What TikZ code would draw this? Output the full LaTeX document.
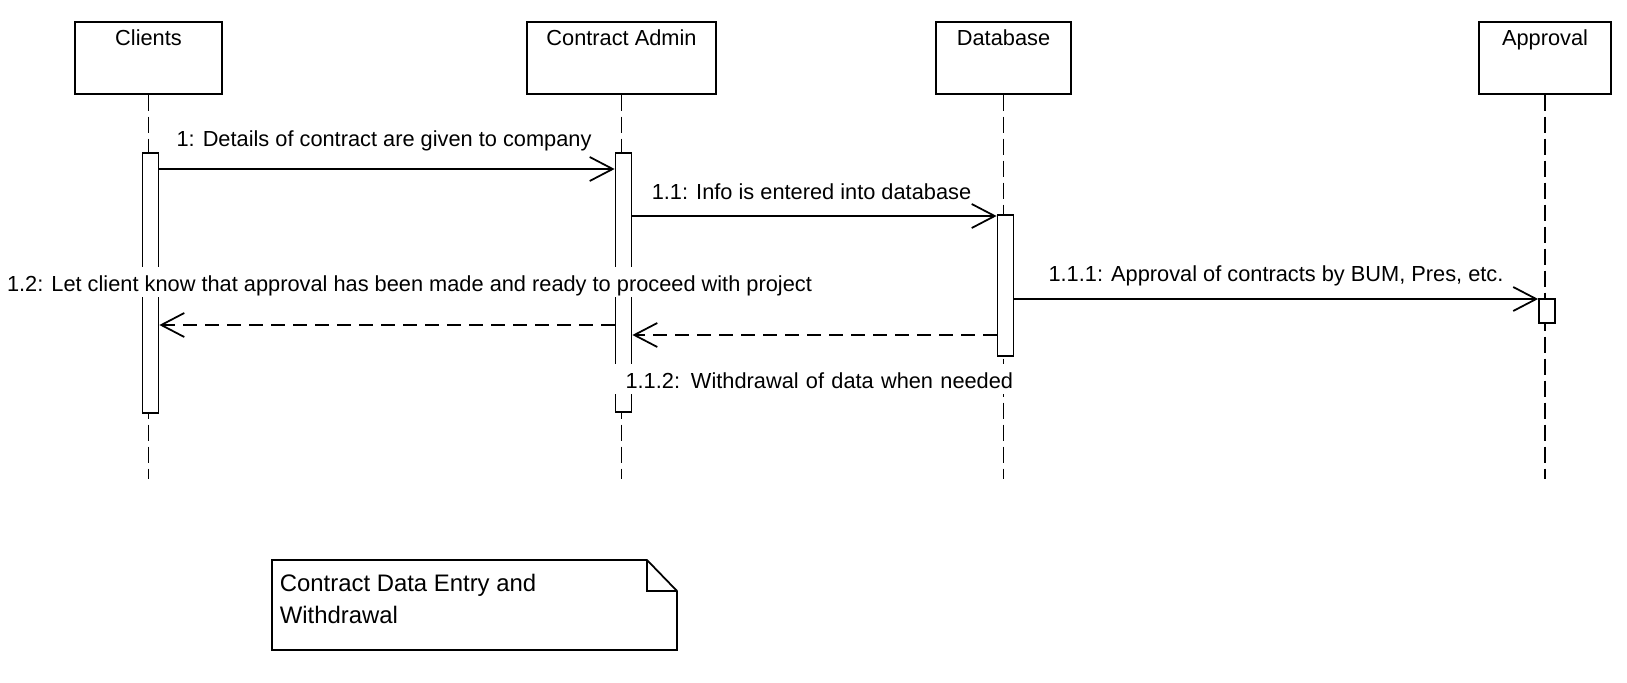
\documentclass[tikz,border=0pt]{standalone}
\usepackage{fontspec}
\setmainfont{Liberation Sans}
\usetikzlibrary{arrows.meta,fit}

\begin{document}
\begin{tikzpicture}[
  x=0.02cm, y=-0.02cm,
  font=\fontsize{12.4}{15}\selectfont,
  line width=1pt,
  actor/.style={draw, anchor=north, minimum height=1.44cm, inner sep=0pt,
                text height=0.48cm, text depth=0.96cm},
  bar/.style={draw, fill=white, inner sep=0pt},
  life/.style={dash pattern=on 0.32cm off 0.12cm},
  msg/.style={-{Straight Barb[length=0.46cm,width=0.48cm]}},
  ret/.style={msg, dash pattern=on 0.28cm off 0.16cm},
  lbl/.style={anchor=base, fill=white, inner sep=0pt,
              text height=0.48cm, text depth=0.12cm},
  notetxt/.style={anchor=north west, inner sep=0pt, align=left,
                  font=\fontsize{13.6}{18.2}\selectfont},
]

  \useasboundingbox (0,0) rectangle (1627,683);

  \def\xcl{148.5}
  \def\xca{621.5}
  \def\xdb{1003.5}
  \def\xap{1545}

  % Participants

  \node[actor, minimum width=2.94cm] (clients)  at (\xcl,21) {Clients};
  \node[actor, minimum width=3.78cm] (admin)    at (\xca,21) {Contract Admin};
  \node[actor, minimum width=2.70cm] (database) at (\xdb,21) {Database};
  \node[actor, minimum width=2.64cm] (approval) at (\xap,21) {Approval};

  % Lifelines

  \coordinate (bottom) at (0,479);
  \draw[life] (clients.south)  -- (clients.south |- bottom);
  \draw[life] (admin.south)    -- (admin.south |- bottom);
  \draw[life] (database.south) -- (database.south |- bottom);
  \draw[life] (approval.south) -- (approval.south |- bottom);

  % Activation bars

  \node[bar, fit={(\xcl-6,153) (\xcl+10,413)}] (clbar) {};
  \node[bar, fit={(\xca-6,153) (\xca+10,412)}] (cabar) {};
  \node[bar, fit={(\xdb-6,215) (\xdb+10,356)}] (dbbar) {};
  \node[bar, fit={(\xap-6,299) (\xap+10,323)}] (apbar) {};

  % Messages

  \coordinate (m1)   at (0,169);
  \coordinate (m11)  at (0,216);
  \coordinate (m111) at (0,299);
  \coordinate (m12)  at (0,325);
  \coordinate (m112) at (0,335);

  \draw[msg] (clbar.east |- m1)   -- (cabar.west |- m1);
  \draw[msg] (cabar.east |- m11)  -- (dbbar.west |- m11);
  \draw[msg] (dbbar.east |- m111) -- (apbar.west |- m111);
  \draw[ret] (cabar.west |- m12)  -- (clbar.east |- m12);
  \draw[ret] (dbbar.west |- m112) -- (cabar.east |- m112);

  % Message labels

  \node[lbl] (l1)   at (384,146)    {1: Details of contract are given to company};
  \node[lbl] (l11)  at (811.5,199)  {1.1: Info is entered into database};
  \node[lbl] (l111) at (1276,281)   {1.1.1: Approval of contracts by BUM, Pres, etc.};
  \node[lbl] (l12)  at (409.5,291)
    {1.2: Let client know that approval has been made and ready to proceed with project};
  \node[lbl, anchor=base east, text width=8.08cm, align=right] (l112) at (1014,388)
    {1.1.2: Withdrawal of data when needed};

  % Note

  \draw (272,560) -- (647,560) -- (677,591) -- (677,650) -- (272,650) -- cycle;
  \draw (647,560) -- (647,591) -- (677,591);
  \node[notetxt] (note) at (279,573) {Contract Data Entry and\\Withdrawal};

\end{tikzpicture}
\end{document}
